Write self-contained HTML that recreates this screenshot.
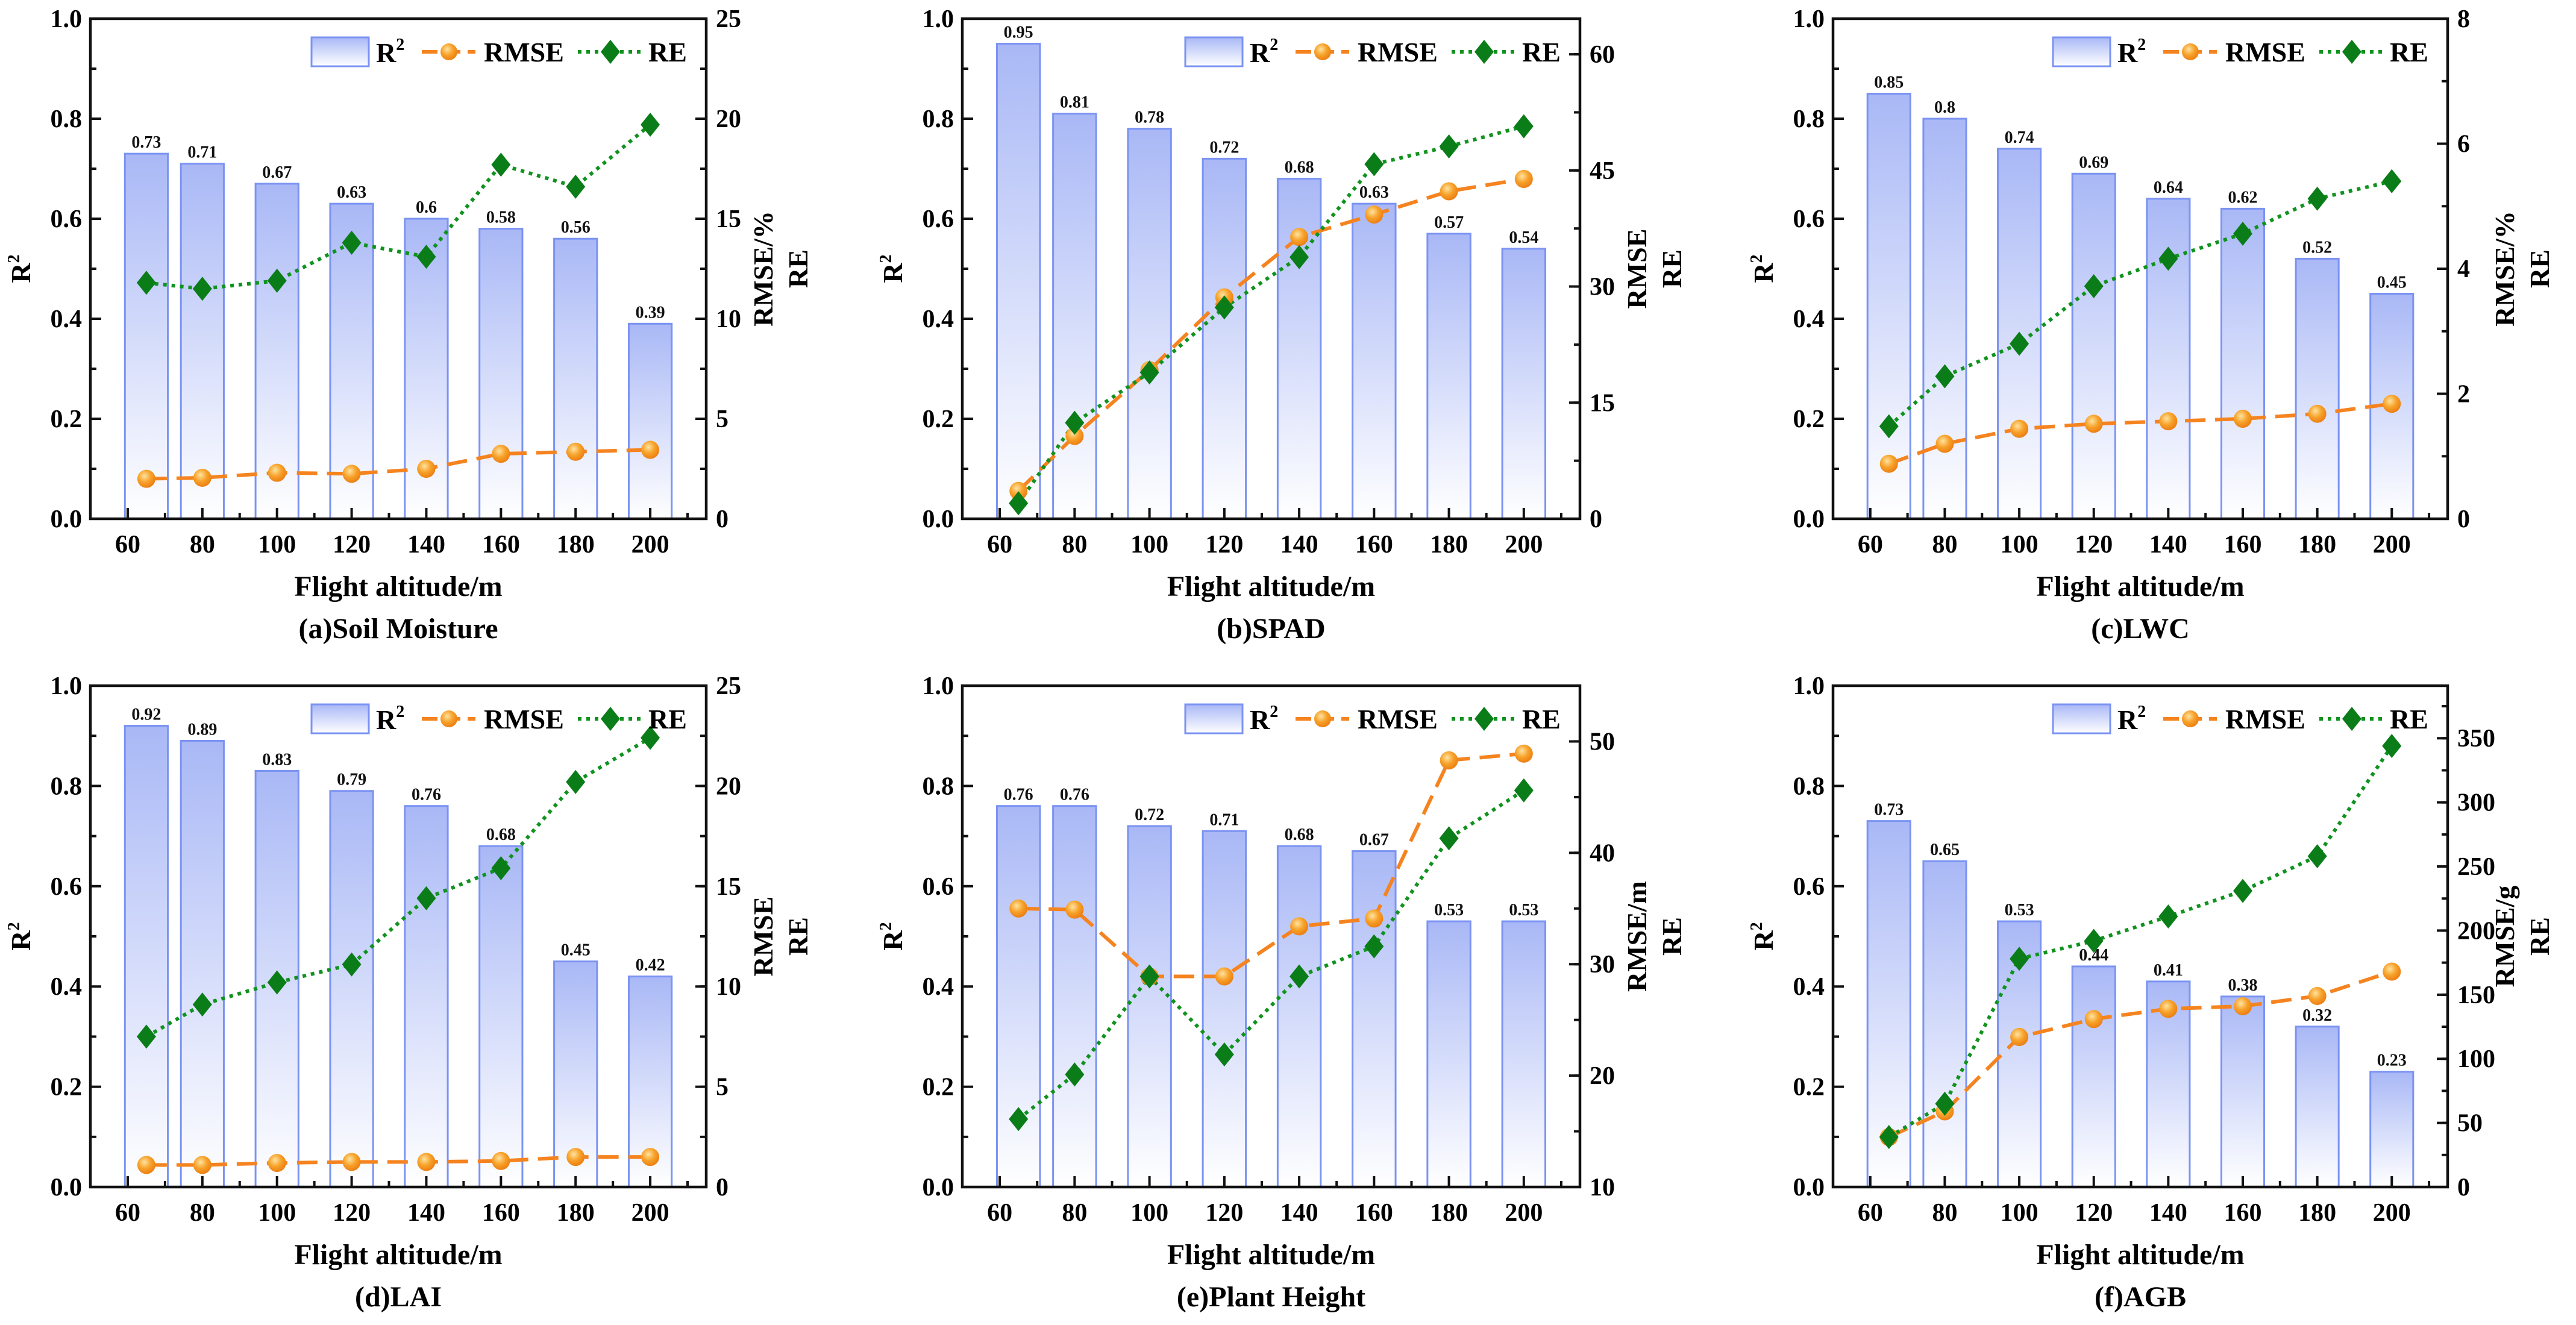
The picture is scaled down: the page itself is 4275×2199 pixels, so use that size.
<!DOCTYPE html>
<html><head><meta charset="utf-8"><style>
html,body{margin:0;padding:0;background:#fff;}
svg{display:block;font-family:"Liberation Serif",serif;font-weight:bold;}
</style></head><body>
<svg id="fig" width="4275" height="2199" viewBox="0 0 4275 2199" xmlns="http://www.w3.org/2000/svg">
<defs>
<linearGradient id="barg" x1="0" y1="0" x2="0" y2="1"><stop offset="0" stop-color="#a9b8f6"/><stop offset="1" stop-color="#ffffff"/></linearGradient>
<radialGradient id="dotg" cx="0.4" cy="0.35" r="0.7"><stop offset="0" stop-color="#ffe3a0"/><stop offset="0.5" stop-color="#f7a22a"/><stop offset="1" stop-color="#ea7a10"/></radialGradient>
</defs>
</svg>
<script>
const categories = [65, 80, 100, 120, 140, 160, 180, 200];
const xTickLabels = [60, 80, 100, 120, 140, 160, 180, 200];
const r2A = [0.73,0.71,0.67,0.63,0.6,0.58,0.56,0.39];
const rmseA = [2.0,2.05,2.3,2.25,2.5,3.25,3.35,3.45];
const reA = [11.8,11.5,11.9,13.8,13.1,17.7,16.6,19.7];
const r2B = [0.95,0.81,0.78,0.72,0.68,0.63,0.57,0.54];
const rmseB = [3.6,10.7,19.2,28.6,36.4,39.3,42.3,43.9];
const reB = [2.0,12.4,18.9,27.3,33.8,45.8,48.1,50.7];
const r2C = [0.85,0.8,0.74,0.69,0.64,0.62,0.52,0.45];
const rmseC = [0.88,1.2,1.44,1.52,1.56,1.6,1.68,1.84];
const reC = [1.48,2.28,2.8,3.72,4.16,4.56,5.12,5.4];
const r2D = [0.92,0.89,0.83,0.79,0.76,0.68,0.45,0.42];
const rmseD = [1.1,1.1,1.2,1.25,1.25,1.3,1.5,1.5];
const reD = [7.5,9.1,10.2,11.1,14.4,15.9,20.2,22.4];
const r2E = [0.76,0.76,0.72,0.71,0.68,0.67,0.53,0.53];
const rmseE = [35.0,34.9,28.9,28.9,33.4,34.1,48.3,48.9];
const reE = [16.1,20.1,28.9,21.9,28.9,31.6,41.3,45.6];
const r2F = [0.73,0.65,0.53,0.44,0.41,0.38,0.32,0.23];
const rmseF = [39,59,117,131,139,141,149,168];
const reF = [39,65,178,192,211,231,258,344];
const leftTicks = [0.0,0.2,0.4,0.6,0.8,1.0];
const rightTicksA = [0,5,10,15,20,25];
const rightTicksB = [0,15,30,45,60];
const rightTicksC = [0,2,4,6,8];
const rightTicksD = [0,5,10,15,20,25];
const rightTicksE = [10,20,30,40,50];
const rightTicksF = [0,50,100,150,200,250,300,350];

const NS="http://www.w3.org/2000/svg";
const svg=document.getElementById('fig');
function mk(tag,attrs,parent,text){const e=document.createElementNS(NS,tag);for(const k in attrs)e.setAttribute(k,attrs[k]);if(text!==undefined)e.textContent=text;parent.appendChild(e);return e;}

const panels=[
 {id:'a',x0:150,x1:1172,y0:31,y1:861,r2:r2A,rmse:rmseA,re:reA,rt:rightTicksA,rmin:0,rmax:25,rminor:2.5,rlab1:'RMSE/%',cap:'(a)Soil Moisture'},
 {id:'b',x0:1597,x1:2622,y0:31,y1:861,r2:r2B,rmse:rmseB,re:reB,rt:rightTicksB,rmin:0,rmax:64.6,rminor:7.5,rlab1:'RMSE',cap:'(b)SPAD'},
 {id:'c',x0:3042,x1:4062,y0:31,y1:861,r2:r2C,rmse:rmseC,re:reC,rt:rightTicksC,rmin:0,rmax:8,rminor:1,rlab1:'RMSE/%',cap:'(c)LWC'},
 {id:'d',x0:150,x1:1172,y0:1138,y1:1970,r2:r2D,rmse:rmseD,re:reD,rt:rightTicksD,rmin:0,rmax:25,rminor:2.5,rlab1:'RMSE',cap:'(d)LAI'},
 {id:'e',x0:1597,x1:2622,y0:1138,y1:1970,r2:r2E,rmse:rmseE,re:reE,rt:rightTicksE,rmin:10,rmax:55,rminor:5,rlab1:'RMSE/m',cap:'(e)Plant Height'},
 {id:'f',x0:3042,x1:4062,y0:1138,y1:1970,r2:r2F,rmse:rmseF,re:reF,rt:rightTicksF,rmin:0,rmax:391,rminor:25,rlab1:'RMSE/g',cap:'(f)AGB'}
];

panels.forEach(p=>{
 const g=mk('g',{},svg);
 
 
 const sx=v=>p.x0+(v-50)/165*(p.x1-p.x0);
 const sy=v=>p.y1-v*(p.y1-p.y0);
 const sr=v=>p.y1-(v-p.rmin)/(p.rmax-p.rmin)*(p.y1-p.y0);
 const bw=11.5/165*(p.x1-p.x0);
 p.r2.forEach((v,i)=>{
  const b=mk('rect',{x:sx(categories[i])-bw/2,y:sy(v),width:bw,height:sy(0)-sy(v),fill:'url(#barg)',stroke:'#7b93f2','stroke-width':3},g);
  
  
  const t=mk('text',{x:sx(categories[i]),y:sy(v)-10,'font-size':28,'text-anchor':'middle',fill:'#111'},g,String(v));
  
  
 });
 const fr=mk('rect',{x:p.x0,y:p.y0,width:p.x1-p.x0,height:p.y1-p.y0,fill:'none',stroke:'#111','stroke-width':4.5},g);
 
 
 for(let v=0;v<=1.0001;v+=0.1){const major=Math.abs(v*5-Math.round(v*5))<1e-6;mk('line',{x1:p.x0,x2:p.x0+(major?18:10),y1:sy(v),y2:sy(v),stroke:'#111','stroke-width':4},g);}
 leftTicks.forEach(v=>{const t=mk('text',{x:p.x0-14,y:sy(v)+14,'font-size':42,'text-anchor':'end'},g,v.toFixed(1));
  
  });
 for(let v=p.rmin;v<=p.rmax+1e-6;v+=p.rminor){mk('line',{x1:p.x1,x2:p.x1-10,y1:sr(v),y2:sr(v),stroke:'#111','stroke-width':4},g);}
 p.rt.forEach(v=>{mk('line',{x1:p.x1,x2:p.x1-18,y1:sr(v),y2:sr(v),stroke:'#111','stroke-width':4},g);
  const t=mk('text',{x:p.x1+16,y:sr(v)+14,'font-size':42},g,String(v));
  
  });
 for(let v=60;v<=210;v+=10){const major=v%20===0;mk('line',{x1:sx(v),x2:sx(v),y1:p.y1,y2:p.y1-(major?18:10),stroke:'#111','stroke-width':4},g);}
 xTickLabels.forEach(v=>{const t=mk('text',{x:sx(v),y:p.y1+56,'font-size':42,'text-anchor':'middle'},g,String(v));
  
  });
 const rp=categories.map((c,i)=>sx(c)+','+sr(p.rmse[i])).join(' ');
 const rl=mk('polyline',{points:rp,fill:'none',stroke:'#f5831f','stroke-width':6,'stroke-dasharray':'34,16'},g);
 
 
 const ep=categories.map((c,i)=>sx(c)+','+sr(p.re[i])).join(' ');
 const el=mk('polyline',{points:ep,fill:'none',stroke:'#10931e','stroke-width':6,'stroke-dasharray':'6,8'},g);
 
 
 categories.forEach((c,i)=>{
  const m=mk('circle',{cx:sx(c),cy:sr(p.rmse[i]),r:15,fill:'url(#dotg)'},g);
  
  
 });
 categories.forEach((c,i)=>{
  const x=sx(c),y=sr(p.re[i]);
  const m=mk('polygon',{points:`${x},${y-20} ${x+16},${y} ${x},${y+20} ${x-16},${y}`,fill:'#0a7d18'},g);
  
  
 });
 const lx=p.x1-655, ly=p.y0+55;
 const lg=mk('g',{},g);
 
 
 mk('rect',{x:lx,y:ly-24,width:95,height:48,fill:'url(#barg)',stroke:'#7b93f2','stroke-width':3},lg);
 const t1=mk('text',{x:lx+107,y:ly+17,'font-size':46},lg,'R');
 mk('tspan',{dy:-20,'font-size':28},t1,'2');
 mk('line',{x1:lx+183,x2:lx+272,y1:ly,y2:ly,stroke:'#f5831f','stroke-width':6,'stroke-dasharray':'26,12'},lg);
 mk('circle',{cx:lx+228,cy:ly,r:14,fill:'url(#dotg)'},lg);
 mk('text',{x:lx+286,y:ly+16,'font-size':46},lg,'RMSE');
 mk('line',{x1:lx+442,x2:lx+548,y1:ly,y2:ly,stroke:'#10931e','stroke-width':6,'stroke-dasharray':'6,8'},lg);
 mk('polygon',{points:`${lx+496},${ly-20} ${lx+512},${ly} ${lx+496},${ly+20} ${lx+480},${ly}`,fill:'#0a7d18'},lg);
 mk('text',{x:lx+559,y:ly+16,'font-size':46},lg,'RE');
 const cy=(p.y0+p.y1)/2;
 const yt=mk('text',{x:p.x0-100,y:cy,'font-size':46,'text-anchor':'middle',transform:`rotate(-90 ${p.x0-100} ${cy})`},g);
 
 
 yt.textContent='R';
 mk('tspan',{dy:-18,'font-size':28},yt,'2');
 const rx1=p.x1+110, rx2=p.x1+168;
 const r1=mk('text',{x:rx1,y:cy,'font-size':46,'text-anchor':'middle',transform:`rotate(-90 ${rx1} ${cy})`},g,p.rlab1);
 
 
 const r2=mk('text',{x:rx2,y:cy,'font-size':46,'text-anchor':'middle',transform:`rotate(-90 ${rx2} ${cy})`},g,'RE');
 
 
 const xm=(p.x0+p.x1)/2;
 const xt=mk('text',{x:xm,y:p.y1+128,'font-size':48,'text-anchor':'middle'},g,'Flight altitude/m');
 
 
 const cp=mk('text',{x:xm,y:p.y1+198,'font-size':48,'text-anchor':'middle'},g,p.cap);
 
 
});
</script>
</body></html>
